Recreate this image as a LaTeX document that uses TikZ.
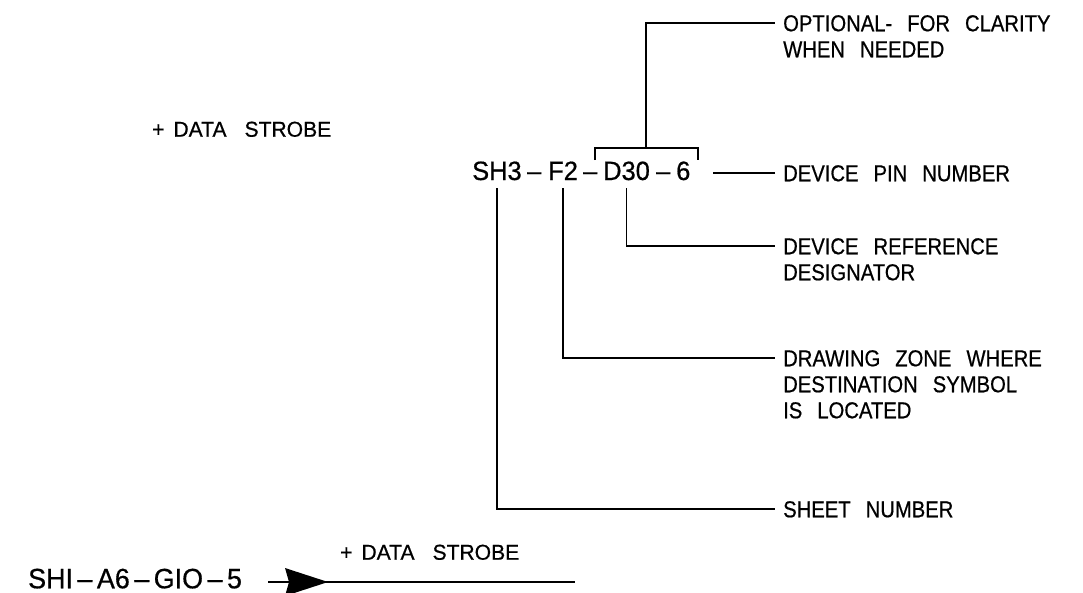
\documentclass[tikz,border=0pt]{standalone}
\usepackage{fontspec}
\newfontfamily\lblfont[FakeStretch=0.88,FakeBold=0.6]{Liberation Sans}
\newfontfamily\dsfont[FakeStretch=0.98,FakeBold=0.6]{Liberation Sans}
\newfontfamily\codefont[FakeStretch=0.96,FakeBold=0.6]{Liberation Sans}
\newcommand{\lblsp}{\spaceskip=15pt\relax}
\newcommand{\dssp}{\spaceskip=18pt\relax}
\tikzset{
  lbl/.style={font=\lblfont\fontsize{23}{27}\selectfont\lblsp, inner sep=0pt, anchor=west, text height=16.5pt, text depth=0pt},
  dstext/.style={font=\dsfont\fontsize{21.5}{25}\selectfont\dssp, inner sep=0pt, anchor=west, text height=15.4pt, text depth=0pt},
  code/.style={font=\codefont\fontsize{26.5}{30}\selectfont, inner sep=0pt, anchor=base west, text height=19pt, text depth=0pt},
  srccode/.style={font=\codefont\fontsize{28}{32}\selectfont, inner sep=0pt, anchor=west, text height=20.5pt, text depth=0pt},
  conn/.style={line width=1.6pt, line join=miter},
}
\begin{document}
\begin{tikzpicture}[x=1pt,y=-1pt]
\fill[white] (0,0) rectangle (1083,592);
\useasboundingbox (0,0) rectangle (1083,592);

% left signal name
\node[dstext] (dstop) at (152,129) {+\kern9pt DATA STROBE};

% main code parts
\node[code] (sh) at (472,180) {SH3};
\node[code] (d1) at (527,180) {–};
\node[code] (fz) at (548,180) {F2};
\node[code] (d2) at (583,180) {–};
\node[code] (dv) at (603,180) {D30};
\node[code] (d3) at (656,180) {–};
\node[code] (pin) at (676,180) {6};

% labels
\node[lbl] (opt1) at (783,23) {OPTIONAL- FOR CLARITY};
\node[lbl] (opt2) at (783,49) {WHEN NEEDED};
\node[lbl] (devpin) at (783,173) {DEVICE PIN NUMBER};
\node[lbl] (devref1) at (783,246) {DEVICE REFERENCE};
\node[lbl] (devref2) at (783,272) {DESIGNATOR};
\node[lbl] (zone1) at (783,358) {DRAWING ZONE WHERE};
\node[lbl] (zone2) at (783,384) {DESTINATION SYMBOL};
\node[lbl] (zone3) at (783,410) {IS LOCATED};
\node[lbl] (sheet) at (783,509) {SHEET NUMBER};

% bracket over D30-6
\coordinate (brL) at (595,160);
\coordinate (brR) at (698,160);
\coordinate (brM) at (646,148);
\draw[conn] (brL) -- ++(0,-12) -- ([yshift=12pt]brR) -- (brR);
\draw[conn] (brM) |- ([xshift=-8pt]opt1.west);

% leaders
\draw[conn] ([xshift=-8pt]devpin.west) -- ++(-62,0);
\draw[conn] ([yshift=-8pt]dv.south) |- ([xshift=-8pt]devref1.west);
\draw[conn] ([yshift=-8pt]fz.south) |- ([xshift=-8pt]zone1.west);
\draw[conn] ([yshift=-8pt]sh.south) |- ([xshift=-8pt]sheet.west);

% bottom example
\node[dstext] (dsbot) at (340,552) {+\kern9pt DATA STROBE};
\node[srccode] (src) at (28,578) {SHI\kern4.5pt–\kern4.5pt A6\kern4.5pt–\kern4.5pt GIO\kern4.5pt–\kern4.5pt 5};
\coordinate (sigend) at (575,582);
\coordinate (tip) at (328,582);
\draw[conn] ([xshift=26pt,yshift=-4pt]src.east) -- (sigend);
\fill (tip) -- ++(-43,-14) -- ++(4,14) -- ++(-4,14) -- cycle;
\end{tikzpicture}
\end{document}
